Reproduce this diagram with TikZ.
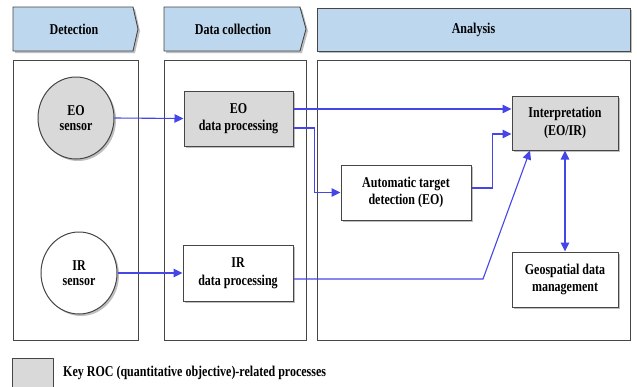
\documentclass[tikz,border=0pt]{standalone}
\usepackage{fontspec}
\setmainfont{Liberation Serif}[FakeStretch=0.8]
\usetikzlibrary{arrows.meta,shapes.geometric,shadows,calc}

\definecolor{hdr}{RGB}{189,215,238}
\definecolor{roc}{RGB}{217,217,217}
\definecolor{edge}{RGB}{70,70,70}
\definecolor{flow}{RGB}{70,70,232}

\tikzset{
  shade2/.style={drop shadow={shadow xshift=2pt,shadow yshift=-2pt,fill=black!45,opacity=0.55}},
  phase/.style={fill=hdr,draw=edge,line width=0.9pt,shade2},
  panel/.style={draw=edge,line width=0.9pt,fill=white,drop shadow={shadow xshift=1pt,shadow yshift=-1pt,fill=black!30}},
  proc/.style={rectangle,draw=edge,line width=1pt,fill=white,align=center,inner sep=2pt,shade2},
  keyproc/.style={proc,fill=roc},
  sensor/.style={ellipse,draw=edge,line width=1pt,fill=white,align=center,inner sep=0pt,
                 minimum width=76pt,minimum height=82pt,shade2},
  conn/.style={draw=flow,line width=1.1pt,-{Triangle[length=9pt,width=8.5pt]}},
  conn2/.style={draw=flow,line width=1.1pt,{Triangle[length=9pt,width=8.5pt]}-{Triangle[length=9pt,width=8.5pt]}},
}

\begin{document}
\begin{tikzpicture}[x=1pt,y=-1pt,font=\fontsize{15}{17.5}\selectfont\bfseries]
\useasboundingbox (0,0) rectangle (637,386);
\fill[white] (0,0) rectangle (637,386);

% phase headers
\path[phase] (13,7) -- (133,7) -- (138,29) -- (133,51) -- (13,51) -- cycle;
\path[phase] (164,7) -- (300,7) -- (306,29) -- (300,51) -- (164,51) -- cycle;
\path[phase] (317,8) rectangle (630,51);
\node (hdet) at (74,29) {Detection};
\node (hcol) at (233,29) {Data collection};
\node (hana) at (473.5,30) {Analysis};

% phase panels
\path[panel] (13,60) rectangle (138,340);
\path[panel] (164,60) rectangle (306,340);
\path[panel] (317,60) rectangle (630,340);

% sensors
\node[sensor,fill=roc] (eos) at (76,118) {EO\\[-2pt]sensor};
\node[sensor] (irs) at (79,273) {IR\\[-2pt]sensor};

% processing steps
\node[keyproc,minimum width=109pt,minimum height=55pt] (eobox) at (238.5,118.5) {EO\\data processing};
\node[proc,minimum width=110pt,minimum height=56pt] (irbox) at (238,273) {IR\\data processing};
\node[proc,minimum width=130pt,minimum height=55pt] (atd) at (406,192.5) {Automatic target\\detection (EO)};
\node[keyproc,minimum width=106pt,minimum height=54pt] (interp) at (565,123) {Interpretation\\(EO/IR)};
\node[proc,minimum width=106pt,minimum height=55pt] (geo) at (565,279.5) {Geospatial data\\management};

% data flow
\draw[conn] (eos.east) -- (eobox.west);
\draw[conn] (irs.east) -- (irbox.west);
\draw[conn] ([yshift=9.5pt]eobox.east) coordinate (eoA) -- (eoA -| interp.west);
\draw[conn] ([yshift=-9.5pt]eobox.east) -- ++(21,0) |- (atd.west);
\draw[conn] ([yshift=4.5pt]atd.east) -- ++(21,0) |- ([yshift=-11pt]interp.west);
\coordinate (irbend) at (483,279);
\draw[conn] ([yshift=-6pt]irbox.east) -- (irbend) -- ([xshift=-35pt]interp.south);
\draw[conn2] (interp.south) -- (geo.north);

% legend
\node[draw=edge,fill=roc,line width=0.9pt,minimum width=41pt,minimum height=32pt,inner sep=0pt] (keybox) at (32.5,374) {};
\node[anchor=west,inner sep=0pt] (keytext) at (63,373) {Key ROC (quantitative objective)-related processes};
\end{tikzpicture}
\end{document}
